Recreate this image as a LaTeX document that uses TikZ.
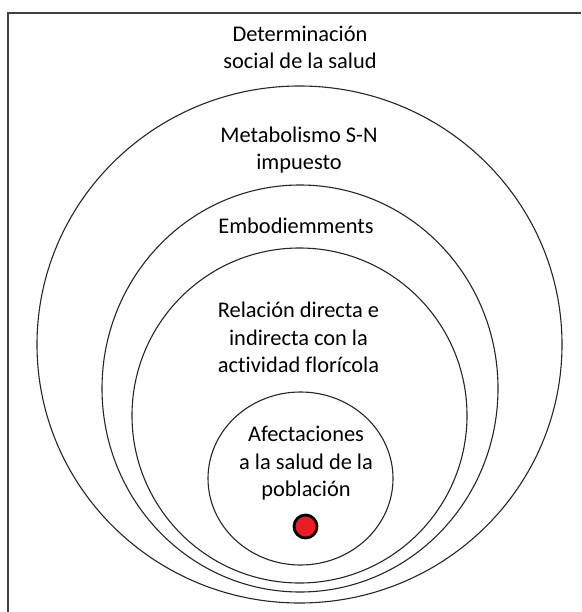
\documentclass[tikz,border=0pt]{standalone}
\usepackage{fontspec}
\setmainfont{Carlito}[Ligatures=NoCommon]
\usetikzlibrary{positioning, shapes.geometric}
\definecolor{dotred}{HTML}{ED1C24}

\begin{document}
\begin{tikzpicture}[
  x=1pt, y=-1pt,
  ring/.style={ellipse, draw=black!85, line width=1.1pt, inner sep=0pt},
  label/.style={font=\fontsize{22.4}{27.4}\selectfont, align=center, anchor=base, inner sep=0pt},
  dot/.style={circle, draw=black, fill=dotred, line width=2.8pt, minimum size=23pt, inner sep=0pt}
]
  \useasboundingbox (0,0) rectangle (581,612);

  % frame, open to the right and bottom
  \draw[black!75, line width=1.6pt] (8,612) -- (8,13) -- (581,13);

  % nested levels
  \node[ring, minimum width=525pt, minimum height=517pt] (social) at (299.5,344.5) {};
  \node[ring, minimum width=396pt, minimum height=407pt] (metab) at (300,388.5) {};
  \node[ring, minimum width=335pt, minimum height=335pt] (embod) at (299.5,415.5) {};
  \node[ring, minimum width=185pt, minimum height=173pt] (afect) at (300.5,478.5) {};
  \node[dot] (pob) at (305.5,526.5) {};

  % level labels (placed at the baseline of their last line)
  \node[label] (tsocial) at (300,69) {Determinación\\social de la salud};
  \node[label] (tmetab) at (299,170) {Metabolismo S-N\\impuesto};
  \node[label] (tembod) at (296,233.3) {Embodiemments};
  \node[label] (tflor) at (298.5,372.7) {Relación directa e\\indirecta con la\\actividad florícola};
  \node[label] (tafect) at (306,496.7) {Afectaciones\\a la salud de la\\población};
\end{tikzpicture}
\end{document}
